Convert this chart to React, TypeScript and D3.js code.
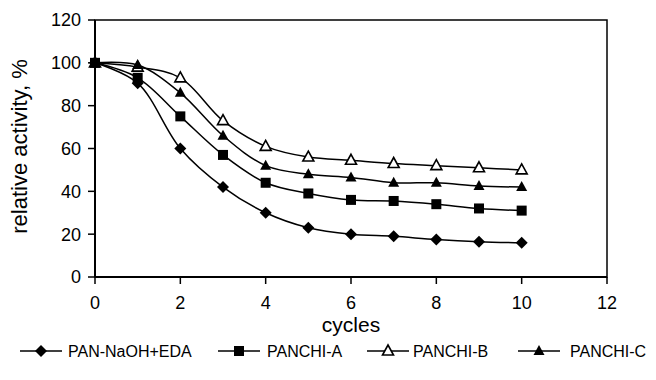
import React from "react";
import * as d3 from "d3";

const cycles = [0, 1, 2, 3, 4, 5, 6, 7, 8, 9, 10];
const panNaOHEDA = [100, 90.5, 60, 42, 30, 23, 20, 19, 17.5, 16.5, 16];
const panchiA = [100, 93, 75, 57, 44, 39, 36, 35.5, 34, 32, 31];
const panchiB = [100, 98, 93, 73, 61, 56, 54.5, 53, 52, 51, 50];
const panchiC = [100, 99, 86, 66, 52, 48, 46.5, 44, 44, 42.5, 42];
const seriesNames = ["PAN-NaOH+EDA", "PANCHI-A", "PANCHI-B", "PANCHI-C"];
const markerTypes = ["diamond", "square", "triangleOpen", "triangle"];
const xTicks = [0, 2, 4, 6, 8, 10, 12];
const yTicks = [0, 20, 40, 60, 80, 100, 120];

const W = 656;
const H = 380;
const left = 95;
const right = 607;
const top = 20;
const bottom = 277;

const x = d3.scaleLinear().domain([0, 12]).range([left, right]);
const y = d3.scaleLinear().domain([0, 120]).range([bottom, top]);

const FONT = "'Liberation Sans', Arial, sans-serif";

function Marker({ type, cx, cy }: { type: string; cx: number; cy: number }) {
  if (type === "diamond") {
    const r = 6;
    return (
      <path
        d={`M${cx},${cy - r}L${cx + r},${cy}L${cx},${cy + r}L${cx - r},${cy}Z`}
        fill="#000"
      />
    );
  }
  if (type === "square") {
    const s = 5;
    return <rect x={cx - s} y={cy - s} width={2 * s} height={2 * s} fill="#000" />;
  }
  const hw = 5.5;
  const h = 10;
  const d = `M${cx},${cy - h * 0.6}L${cx + hw},${cy + h * 0.4}L${cx - hw},${cy + h * 0.4}Z`;
  if (type === "triangleOpen") {
    return <path d={d} fill="#fff" stroke="#000" strokeWidth={1.6} />;
  }
  return <path d={d} fill="#000" />;
}

export default function App() {
  const all = [panNaOHEDA, panchiA, panchiB, panchiC];
  const line = d3
    .line<number>()
    .x((_, i) => x(cycles[i]))
    .y((v) => y(v))
    .curve(d3.curveCatmullRom.alpha(0.5));

  const legendX = [20, 218, 367, 518];
  const legendTextX = [68, 267, 413, 570];
  const legendY = 351;

  return (
    <svg
      width={W}
      height={H}
      style={{ position: "fixed", left: 0, top: 0, background: "#fff" }}
      fontFamily={FONT}
    >
      <rect x={0} y={0} width={W} height={H} fill="#fff" />
      <rect x={left} y={top} width={right - left} height={bottom - top} fill="none" stroke="#000" strokeWidth={1.5} />
      <line x1={left} x2={left} y1={top} y2={bottom} stroke="#000" strokeWidth={2} />
      <line x1={left} x2={right} y1={bottom} y2={bottom} stroke="#000" strokeWidth={2} />
      {yTicks.map((t) => (
        <g key={"y" + t}>
          <line x1={left - 7} x2={left} y1={y(t)} y2={y(t)} stroke="#000" strokeWidth={1.5} />
          <text x={left - 14} y={y(t)} dy="0.36em" textAnchor="end" fontSize={18} fill="#000">
            {t}
          </text>
        </g>
      ))}
      {xTicks.map((t) => (
        <g key={"x" + t}>
          <line x1={x(t)} x2={x(t)} y1={bottom} y2={bottom + 7} stroke="#000" strokeWidth={1.5} />
          <text x={x(t)} y={309} textAnchor="middle" fontSize={18} fill="#000">
            {t}
          </text>
        </g>
      ))}
      <text x={(left + right) / 2} y={332} textAnchor="middle" fontSize={21} fill="#000">
        cycles
      </text>
      <text
        transform={`translate(27,${(top + bottom) / 2 - 2}) rotate(-90)`}
        textAnchor="middle"
        fontSize={22}
        fill="#000"
      >
        relative activity, %
      </text>
      {all.map((s, si) => (
        <path key={"l" + si} d={line(s) || ""} fill="none" stroke="#000" strokeWidth={1.5} />
      ))}
      {all.map((s, si) =>
        s.map((v, i) => <Marker key={si + "-" + i} type={markerTypes[si]} cx={x(cycles[i])} cy={y(v)} />)
      )}
      {seriesNames.map((n, i) => (
        <g key={"lg" + i}>
          <line x1={legendX[i]} x2={legendX[i] + 42} y1={legendY} y2={legendY} stroke="#000" strokeWidth={1.5} />
          <Marker type={markerTypes[i]} cx={legendX[i] + 21} cy={legendY} />
          <text x={legendTextX[i]} y={legendY} dy="0.36em" fontSize={16} fill="#000">
            {n}
          </text>
        </g>
      ))}
    </svg>
  );
}
